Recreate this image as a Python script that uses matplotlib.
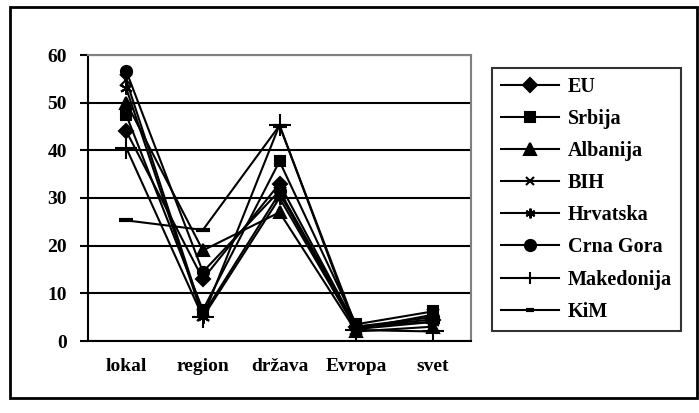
import matplotlib.pyplot as plt
from matplotlib.lines import Line2D
from matplotlib.patches import Rectangle

plt.rcParams['font.family'] = ['Liberation Serif', 'DejaVu Serif']
plt.rcParams['font.weight'] = 'bold'

categories = ['lokal', 'region', 'država', 'Evropa', 'svet']

eu = [44.0, 13.0, 33.0, 3.0, 4.5]
srbija = [47.4, 6.5, 37.7, 3.5, 6.2]
albanija = [50.0, 19.0, 27.0, 2.0, 3.0]
bih = [54.7, 5.5, 31.0, 2.5, 5.5]
hrvatska = [53.0, 5.0, 30.0, 2.5, 4.0]
crna_gora = [56.6, 14.5, 31.5, 3.0, 5.0]
makedonija = [40.5, 5.0, 45.3, 2.3, 2.0]
kim = [25.3, 23.3, 45.2, 3.0, 4.0]

series = [
    ('EU', eu, 'D', 7),
    ('Srbija', srbija, 's', 7),
    ('Albanija', albanija, '^', 8),
    ('BIH', bih, 'x', 8),
    ('Hrvatska', hrvatska, (6, 2, 0), 9),
    ('Crna Gora', crna_gora, 'o', 8),
    ('Makedonija', makedonija, '+', 16),
    ('KiM', kim, '_', 10),
]

fig = plt.figure(figsize=(6.99, 4.13), dpi=100)
# outer frame of the chart object
fig.patches.append(Rectangle((10 / 699, 1 - 398 / 413), 687 / 699, 391 / 413,
                             transform=fig.transFigure, fill=False,
                             edgecolor='black', linewidth=2))

ax = fig.add_axes([88 / 699, 1 - 341 / 413, 383 / 699, 286 / 413])
x = list(range(len(categories)))

for name, vals, mk, ms in series:
    mew = 3 if mk == '_' else 1.5
    ax.plot(x, vals, color='black', linewidth=1.5, marker=mk, markersize=ms,
            markeredgewidth=mew, markerfacecolor='black', markeredgecolor='black')

ax.set_xlim(-0.5, 4.5)
ax.set_ylim(0, 60)
ax.set_yticks(range(0, 61, 10))
ax.set_xticks(x)
ax.set_xticklabels(categories)
ax.tick_params(axis='x', length=0, pad=12, labelsize=14)
ax.tick_params(axis='y', direction='out', length=6, width=1.5, pad=9, labelsize=14)
for lab in ax.get_xticklabels() + ax.get_yticklabels():
    lab.set_fontweight('bold')

ax.grid(axis='y', color='black', linewidth=1.5)
ax.set_axisbelow(True)
ax.spines['left'].set_linewidth(1.5)
ax.spines['bottom'].set_linewidth(1.5)
ax.spines['top'].set_color('gray')
ax.spines['right'].set_color('gray')
ax.spines['top'].set_linewidth(1.5)
ax.spines['right'].set_linewidth(1.5)

handles = []
for name, vals, mk, ms in series:
    lms = {'D': 7, 's': 7, '^': 8, 'x': 6, '+': 8, '_': 6, 'o': 8}.get(mk, 7)
    mew = 3 if mk == '_' else 1.5
    handles.append(Line2D([], [], color='black', linewidth=1.5, marker=mk,
                          markersize=lms, markeredgewidth=mew,
                          markerfacecolor='black', markeredgecolor='black',
                          label=name))

leg = fig.legend(handles=handles, loc='upper left',
                 bbox_to_anchor=(492 / 699, 1 - 68 / 413),
                 frameon=True, fancybox=False, edgecolor='black',
                 handlelength=2.9, handletextpad=0.4, labelspacing=0.6,
                 borderpad=0.45, borderaxespad=0,
                 prop={'family': 'Liberation Serif', 'weight': 'bold', 'size': 14.5})
leg.get_frame().set_linewidth(1.5)

fig.savefig('out.png', dpi=100)
